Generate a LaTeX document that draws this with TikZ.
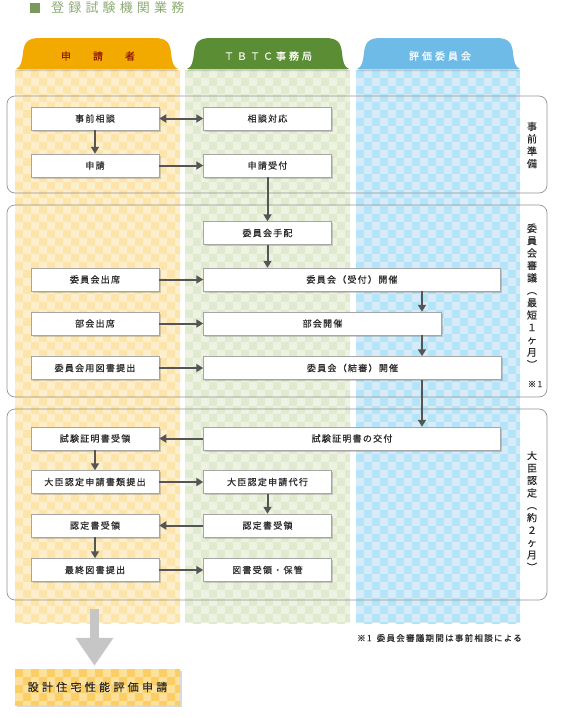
\documentclass[tikz,border=0pt]{standalone}
\usepackage{fontspec}
\newfontfamily\jp{Noto Sans CJK JP}
\newfontfamily\jpm[FakeBold=0.4]{Noto Sans CJK JP}
\usetikzlibrary{arrows.meta,positioning,shadows,calc}

\definecolor{titlegr}{HTML}{8DAA72}
\definecolor{titlesq}{HTML}{7A9A5C}
\definecolor{tabor}{HTML}{F2A900}
\definecolor{tabgr}{HTML}{5B8E34}
\definecolor{tabbl}{HTML}{6EBBE8}
\definecolor{tabred}{HTML}{8E1C06}
\definecolor{orA}{HTML}{FDEFCB}
\definecolor{orB}{HTML}{FDE4AA}
\definecolor{grA}{HTML}{EDF2E3}
\definecolor{grB}{HTML}{E0EACF}
\definecolor{blA}{HTML}{D6EAF8}
\definecolor{blB}{HTML}{B3E4F8}
\definecolor{finA}{HTML}{FDE19A}
\definecolor{finB}{HTML}{FCCF66}
\definecolor{arrgr}{HTML}{555555}
\definecolor{txt}{HTML}{2A2A2A}

\newcommand\boxfont{\jpm\fontsize{9}{10}\selectfont\addfontfeature{LetterSpace=14}}
\newcommand\headfont{\jpm\fontsize{10}{12}\selectfont\addfontfeature{LetterSpace=30}}
\newcommand\titlefont{\jp\fontsize{13}{15}\selectfont\addfontfeature{LetterSpace=32}}
\newcommand\sidefont{\jpm\fontsize{10}{12.4}\selectfont}
\newcommand\notefont{\jpm\fontsize{8.5}{10}\selectfont\addfontfeature{LetterSpace=15}}
\newcommand\finfont{\jpm\fontsize{11}{13}\selectfont\addfontfeature{LetterSpace=30}}

% checkered background: x0 x1 y0 y1 colour1 colour2
\newcommand\checker[6]{%
  \fill[#5] (#1,#3) rectangle (#2,#4);
  \begin{scope}
    \clip (#1,#3) rectangle (#2,#4);
    \pgfmathtruncatemacro\nrow{(#4-#3)/8}
    \pgfmathtruncatemacro\ncol{(#2-#1)/16}
    \foreach \j in {0,...,\nrow}{
      \pgfmathtruncatemacro\off{mod(\j,2)*8}
      \foreach \i in {0,...,\ncol}
        \fill[#6] ({#1+\off+16*\i},{#3+8*\j}) rectangle ++(8,8);
    }
  \end{scope}}

\begin{document}
\begin{tikzpicture}[x=1pt,y=-1pt,>={Triangle[width=8pt,length=7pt]},
task/.style={draw=gray!70,fill=white,line width=.5pt,minimum height=23pt,minimum width=128pt,inner sep=0pt,font=\boxfont,text=txt,drop shadow={opacity=.35,shadow xshift=1.5pt,shadow yshift=-1.5pt}},
flow/.style={arrgr,line width=2pt,->},
phase/.style={draw=gray!85,rounded corners=8pt,line width=.7pt},
side/.style={align=center,font=\sidefont,text=txt,inner sep=0pt}]
\useasboundingbox (0,0) rectangle (560,718);
% title
\fill[titlesq] (30,3) rectangle (40,13);
\node[anchor=west,font=\titlefont,text=titlegr,inner sep=0pt] (title) at (51,8) {登録試験機関業務};
% lanes
\checker{15}{180}{70}{623}{orA}{orB}
\checker{185}{350}{70}{623}{grA}{grB}
\checker{356}{520}{70}{623}{blA}{blB}
\foreach \a/\b/\c in {16/178/tabor,187/349/tabgr,357/520/tabbl}
  \fill[\c,drop shadow={opacity=.3,shadow xshift=0pt,shadow yshift=-2pt}] (\a,69) .. controls (\a+5,67) and (\a+6,62) .. (\a+7,53) .. controls (\a+8,42) and (\a+12,38) .. (\a+24,38) -- (\b-24,38) .. controls (\b-12,38) and (\b-8,42) .. (\b-7,53) .. controls (\b-6,62) and (\b-5,67) .. (\b,69) -- cycle;
\node[font=\headfont,text=tabred] (hshin) at (98,56) {申\hspace{22pt}請\hspace{22pt}者};
\node[font=\headfont,text=white] (htbtc) at (268,56) {ＴＢＴＣ事務局};
\node[font=\headfont,text=white] (hiin) at (440,56) {評価委員会};
% phases
\draw[phase] (7,96) rectangle (547,193);
\draw[phase] (7,205) rectangle (547,397);
\draw[phase] (7,409) rectangle (547,600);
% tasks
\node[task] (soudan) at (95,118.5) {事前相談};
\node[task,right=44pt of soudan] (taiou) {相談対応};
\node[task] (shinsei) at (95,165.5) {申請};
\node[task,right=44pt of shinsei] (uketsuke) {申請受付};
\node[task,below=44pt of uketsuke] (tehai) {委員会手配};
\node[task] (shusseki) at (95,279.5) {委員会出席};
\node[task,minimum width=297pt,right=44pt of shusseki] (iinkai1) {委員会（受付）開催};
\node[task] (bukaishu) at (95,323.5) {部会出席};
\node[task,minimum width=238pt,right=44pt of bukaishu] (bukai) {部会開催};
\node[task] (tosho) at (95,368) {委員会用図書提出};
\node[task,minimum width=298pt,right=44pt of tosho] (iinkai2) {委員会（結審）開催};
\node[task] (juryo) at (95,438.5) {試験証明書受領};
\node[task,minimum width=297pt,right=44pt of juryo] (koufu) {試験証明書の交付};
\node[task] (daijin) at (95,482) {大臣認定申請書類提出};
\node[task,right=44pt of daijin] (daikou) {大臣認定申請代行};
\node[task] (ninteiju) at (95,525.5) {認定書受領};
\node[task,right=44pt of ninteiju] (nintei) {認定書受領};
\node[task] (saishu) at (95,570) {最終図書提出};
\node[task,right=44pt of saishu] (hokan) {図書受領・保管};
% flows
\coordinate (mid) at (422,0);
\draw[flow,<->] (soudan) -- (taiou);
\draw[flow] (soudan) -- (shinsei);
\draw[flow] (shinsei) -- (uketsuke);
\draw[flow] (uketsuke) -- (tehai);
\draw[flow] (tehai) -- (tehai |- iinkai1.north);
\draw[flow] (shusseki) -- (iinkai1);
\draw[flow] (bukaishu) -- (bukai);
\draw[flow] (tosho) -- (iinkai2);
\draw[flow] (iinkai1.south -| mid) -- (bukai.north -| mid);
\draw[flow] (bukai.south -| mid) -- (iinkai2.north -| mid);
\draw[flow] (iinkai2.south -| mid) -- (koufu.north -| mid);
\draw[flow] (koufu) -- (juryo);
\draw[flow] (juryo) -- (daijin);
\draw[flow] (daijin) -- (daikou);
\draw[flow] (daikou) -- (nintei);
\draw[flow] (nintei) -- (ninteiju);
\draw[flow] (ninteiju) -- (saishu);
\draw[flow] (saishu) -- (hokan);
% side labels
\node[side] (junbi) at (532,145) {事\\前\\準\\備};
\node[side] (shingi) at (532,296) {委\\員\\会\\審\\議\\︵\\最\\短\\１\\ヶ\\月\\︶};
\node[side,font=\notefont] (kome) at (535,384) {※1};
\node[side] (nintlab) at (532,511) {大\\臣\\認\\定\\︵\\約\\２\\ヶ\\月\\︶};
\node[anchor=west,font=\notefont,text=txt,inner sep=0pt] (note) at (357,638) {※1\hspace{5pt}委員会審議期間は事前相談による};
% next step
\fill[finA,drop shadow={opacity=.3,shadow xshift=2pt,shadow yshift=-2pt}] (15,669) rectangle (180,705);
\checker{15}{180}{669}{705}{finA}{finB}
\node[font=\finfont,text=txt,minimum width=165pt,minimum height=36pt,inner sep=0pt] (final) at (97.5,687) {設計住宅性能評価申請};
\path (final.north) ++(-3,-60) coordinate (bigtop);
\draw[gray!45,line width=9pt,-{Triangle[width=36pt,length=28pt]},shorten >=3pt] (bigtop) -- (bigtop |- final.north);
\end{tikzpicture}
\end{document}
